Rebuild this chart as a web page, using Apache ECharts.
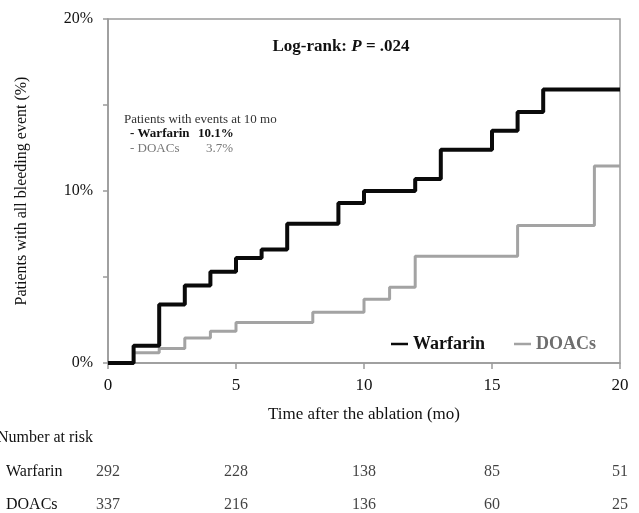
<!DOCTYPE html>
<html>
<head>
<meta charset="utf-8">
<script src="https://cdn.jsdelivr.net/npm/echarts@6/dist/echarts.min.js"></script>
<style>html,body{margin:0;padding:0;background:#fff}#c{width:639px;height:513px}</style>
</head>
<body>
<div id="c"></div>
<script>
// Kaplan-Meier style cumulative event curves (% of patients with bleeding events)
const warfarinTimes = [0, 1, 2, 3, 4, 5, 6, 7, 9, 10, 12, 13, 15, 16, 17, 20];
const warfarinRates = [0, 1.0, 3.4, 4.5, 5.3, 6.1, 6.6, 8.1, 9.3, 10.0, 10.7, 12.4, 13.5, 14.6, 15.9, 15.9];
const doacTimes = [0, 1, 2, 3, 4, 5, 8, 10, 11, 12, 16, 19, 20];
const doacRates = [0, 0.6, 0.85, 1.45, 1.85, 2.35, 2.95, 3.7, 4.4, 6.2, 8.0, 11.45, 11.45];

// Number at risk table
const riskTimes = [0, 5, 10, 15, 20];
const riskGroups = ['Warfarin', 'DOACs'];
const warfarinAtRisk = [292, 228, 138, 85, 51];
const doacAtRisk = [337, 216, 136, 60, 25];

const yTicks = [0, 10, 20];

const SERIF = '"Liberation Serif", "DejaVu Serif", serif';
const AXIS_GRAY = '#9a9a9a';

const warfarinData = warfarinTimes.map((t, i) => [t, warfarinRates[i]]);
const doacData = doacTimes.map((t, i) => [t, doacRates[i]]);
const warfarinRisk = riskTimes.map((t, i) => [t, 0, warfarinAtRisk[i]]);
const doacRisk = riskTimes.map((t, i) => [t, 1, doacAtRisk[i]]);

const chart = echarts.init(document.getElementById('c'), null, {renderer: 'canvas'});
chart.setOption({
  animation: false,
  backgroundColor: '#fff',
  grid: [
    {left: 108, right: 19, top: 19, bottom: 150, show: true, borderColor: AXIS_GRAY, borderWidth: 1.5, backgroundColor: 'transparent'},
    {left: 108, right: 19, top: 472, height: 33}
  ],
  xAxis: [
    {
      type: 'value', gridIndex: 0, min: 0, max: 20, interval: 5,
      name: 'Time after the ablation (mo)', nameLocation: 'middle', nameGap: 43,
      nameTextStyle: {fontFamily: SERIF, fontSize: 17, color: '#111'},
      axisLine: {show: true, lineStyle: {color: AXIS_GRAY, width: 1.5}},
      axisTick: {show: true, length: 6, lineStyle: {color: AXIS_GRAY, width: 1.5}},
      axisLabel: {fontFamily: SERIF, fontSize: 17, color: '#111', margin: 14},
      splitLine: {show: false}
    },
    {type: 'value', gridIndex: 1, min: 0, max: 20, show: false}
  ],
  yAxis: [
    {
      type: 'value', gridIndex: 0, min: 0, max: 20, interval: 5,
      name: 'Patients with all bleeding event (%)', nameLocation: 'middle', nameGap: 78, nameRotate: 90,
      nameTextStyle: {fontFamily: SERIF, fontSize: 16, color: '#111'},
      axisLine: {show: true, lineStyle: {color: AXIS_GRAY, width: 1.5}},
      axisTick: {show: true, length: 5, lineStyle: {color: AXIS_GRAY, width: 1.5}},
      axisLabel: {
        fontFamily: SERIF, fontSize: 16, color: '#111', margin: 15,
        formatter: v => (yTicks.indexOf(v) >= 0 ? v + '%' : '')
      },
      splitLine: {show: false}
    },
    {
      type: 'value', gridIndex: 1, min: 0, max: 1, interval: 1, inverse: true,
      axisLine: {show: false}, axisTick: {show: false}, splitLine: {show: false},
      axisLabel: {
        fontFamily: SERIF, fontSize: 16, color: '#111', align: 'left', margin: 102,
        formatter: v => riskGroups[v] || ''
      }
    }
  ],
  legend: {
    left: 386, top: 330, icon: 'rect', itemWidth: 17, itemHeight: 2.5, itemGap: 29,
    textStyle: {fontFamily: SERIF, fontSize: 18, fontWeight: 'bold'},
    data: [
      {name: 'Warfarin', textStyle: {color: '#111'}},
      {name: 'DOACs', textStyle: {color: '#6e6e6e'}}
    ]
  },
  series: [
    {
      name: 'DOACs', type: 'line', step: 'end', data: doacData, showSymbol: false, z: 3,
      lineStyle: {color: '#a3a3a3', width: 3}, itemStyle: {color: '#a3a3a3'}
    },
    {
      name: 'Warfarin', type: 'line', step: 'end', data: warfarinData, showSymbol: false, z: 4,
      lineStyle: {color: '#0a0a0a', width: 4}, itemStyle: {color: '#0a0a0a'}
    },
    {
      name: 'Warfarin at risk', type: 'scatter', xAxisIndex: 1, yAxisIndex: 1, data: warfarinRisk,
      symbolSize: 1, itemStyle: {color: 'transparent'}, silent: true,
      label: {show: true, position: 'inside', formatter: p => String(p.value[2]), fontFamily: SERIF, fontSize: 16, color: '#111'}
    },
    {
      name: 'DOACs at risk', type: 'scatter', xAxisIndex: 1, yAxisIndex: 1, data: doacRisk,
      symbolSize: 1, itemStyle: {color: 'transparent'}, silent: true,
      label: {show: true, position: 'inside', formatter: p => String(p.value[2]), fontFamily: SERIF, fontSize: 16, color: '#111'}
    }
  ],
  graphic: [
    {
      type: 'text', x: 341, y: 47,
      style: {
        text: '{a|Log-rank: }{b|P}{a| = .024}', align: 'center', verticalAlign: 'middle',
        rich: {
          a: {fontFamily: SERIF, fontSize: 17, fontWeight: 'bold', fill: '#111'},
          b: {fontFamily: SERIF, fontSize: 17, fontWeight: 'bold', fontStyle: 'italic', fill: '#111'}
        }
      }
    },
    {type: 'text', x: 124, y: 120, style: {text: 'Patients with events at 10 mo', font: '13px ' + SERIF, fill: '#333', verticalAlign: 'middle'}},
    {type: 'text', x: 130, y: 134, style: {text: '- Warfarin', font: 'bold 13px ' + SERIF, fill: '#111', verticalAlign: 'middle'}},
    {type: 'text', x: 198, y: 134, style: {text: '10.1%', font: 'bold 13px ' + SERIF, fill: '#111', verticalAlign: 'middle'}},
    {type: 'text', x: 130, y: 149, style: {text: '- DOACs', font: '13px ' + SERIF, fill: '#777', verticalAlign: 'middle'}},
    {type: 'text', x: 233, y: 149, style: {text: '3.7%', font: '13px ' + SERIF, fill: '#777', verticalAlign: 'middle', align: 'right'}},
    {type: 'text', x: 93, y: 438, style: {text: 'Number at risk', font: '16px ' + SERIF, fill: '#111', verticalAlign: 'middle', align: 'right'}}
  ]
});
</script>
</body>
</html>
